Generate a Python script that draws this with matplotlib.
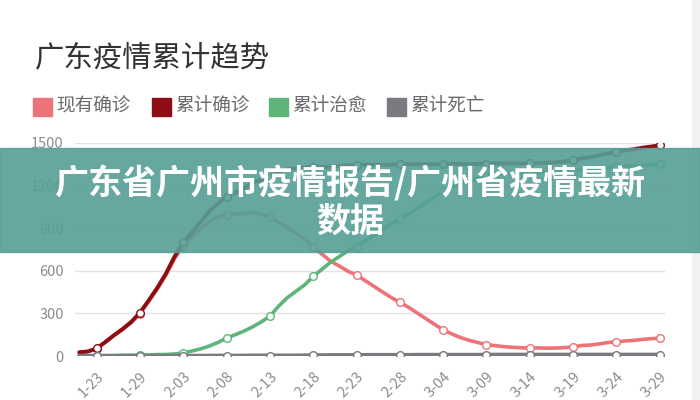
import matplotlib
matplotlib.use("Agg")
import matplotlib.pyplot as plt
from matplotlib.patches import Rectangle

plt.rcParams['font.family'] = ['Noto Sans CJK SC', 'DejaVu Sans']

# dates on a category axis (1-24 is missing in the source chart)
dates = ['1-21', '1-22', '1-23', '1-25', '1-26', '1-27', '1-28', '1-29', '1-30', '1-31',
         '2-01', '2-02', '2-03', '2-04', '2-05', '2-06', '2-07', '2-08', '2-09', '2-10',
         '2-11', '2-12', '2-13', '2-14', '2-15', '2-16', '2-17', '2-18', '2-19', '2-20',
         '2-21', '2-22', '2-23', '2-24', '2-25', '2-26', '2-27', '2-28', '2-29', '3-01',
         '3-02', '3-03', '3-04', '3-05', '3-06', '3-07', '3-08', '3-09', '3-10', '3-11',
         '3-12', '3-13', '3-14', '3-15', '3-16', '3-17', '3-18', '3-19', '3-20', '3-21',
         '3-22', '3-23', '3-24', '3-25', '3-26', '3-27', '3-28', '3-29']

current = [26, 32, 51, 96, 144, 186, 235, 299, 383, 470,
           569, 686, 778, 835, 894, 947, 979, 994, 1000, 1001,
           1012, 999, 979, 942, 904, 865, 825, 767, 718, 668,
           634, 597, 570, 531, 491, 451, 412, 378, 343, 303,
           263, 223, 184, 155, 130, 110, 95, 80, 73, 66,
           61, 58, 56, 57, 55, 56, 59, 64, 74, 77,
           85, 95, 99, 106, 110, 117, 122, 126]

confirmed = [26, 32, 53, 98, 146, 190, 240, 305, 390, 480,
             580, 700, 800, 870, 944, 1018, 1075, 1120, 1151, 1177,
             1219, 1241, 1261, 1294, 1316, 1322, 1328, 1331, 1332, 1333,
             1339, 1342, 1345, 1347, 1347, 1347, 1348, 1349, 1349, 1350,
             1350, 1350, 1351, 1352, 1352, 1352, 1352, 1353, 1356, 1356,
             1356, 1356, 1356, 1360, 1361, 1364, 1370, 1378, 1392, 1400,
             1413, 1428, 1437, 1449, 1456, 1467, 1475, 1484]

cured = [0, 0, 2, 2, 2, 4, 5, 6, 7, 10,
         11, 14, 22, 35, 50, 70, 95, 125, 150, 175,
         205, 240, 280, 350, 410, 455, 500, 560, 610, 660,
         700, 740, 770, 810, 850, 890, 930, 965, 1000, 1040,
         1080, 1120, 1160, 1190, 1215, 1235, 1250, 1265, 1275, 1282,
         1287, 1290, 1292, 1295, 1298, 1300, 1303, 1306, 1310, 1315,
         1320, 1325, 1330, 1335, 1338, 1342, 1345, 1350]

deaths = [0, 0, 0, 0, 0, 0, 0, 0, 0, 0,
          0, 0, 0, 0, 0, 1, 1, 1, 1, 1,
          2, 2, 2, 2, 2, 2, 3, 4, 4, 5,
          5, 5, 5, 6, 6, 6, 6, 6, 6, 7,
          7, 7, 7, 7, 7, 7, 7, 8, 8, 8,
          8, 8, 8, 8, 8, 8, 8, 8, 8, 8,
          8, 8, 8, 8, 8, 8, 8, 8]

series_names = ['现有确诊', '累计确诊', '累计治愈', '累计死亡']
series_colors = ['#ec7478', '#8e0c14', '#5db57a', '#7a7a80']
series_widths = [2.6, 2.8, 2.6, 3.2]

fig = plt.figure(figsize=(7, 4), dpi=100)
ax = fig.add_axes([0.107, 0.11, 0.843, 0.5325])

x = list(range(len(dates)))
for vals, color, lw in zip([current, confirmed, cured, deaths], series_colors, series_widths):
    ax.plot(x, vals, color=color, lw=lw, solid_capstyle='round',
            marker='o', markevery=(2, 5), markersize=5.5,
            markerfacecolor='white', markeredgecolor=color, markeredgewidth=1)

ax.set_ylim(0, 1500)
ax.set_xlim(-0.5, len(dates) - 0.4)
ax.set_yticks([0, 300, 600, 900, 1200, 1500])
ax.set_xticks(x[2::5])
ax.set_xticklabels(dates[2::5], rotation=45, ha='right', rotation_mode='anchor')
ax.tick_params(length=0, labelsize=10.5, labelcolor='#8c8c8c')
ax.tick_params(axis='y', pad=8)
ax.tick_params(axis='x', pad=10)
ax.grid(axis='y', color='#e3e3e3', lw=1)
ax.set_axisbelow(True)
for s in ax.spines.values():
    s.set_visible(False)

# chart title and legend
fig.text(0.05, 0.855, '广东疫情累计趋势', fontsize=21.2, color='#333333', va='center')
sq_x = [33, 152, 269, 387]
for name, color, px in zip(series_names, series_colors, sq_x):
    fig.patches.append(Rectangle((px / 700, 1 - 116 / 400), 19 / 700, 18 / 400,
                                 transform=fig.transFigure, color=color))
    fig.text((px + 23) / 700, 1 - 106 / 400, name, fontsize=13.4, color='#6a6a6a', va='center')

# scrollbar strip on the right edge
fig.patches.append(Rectangle((692 / 700, 0), 8 / 700, 1, transform=fig.transFigure,
                             color='#f1f1f1', zorder=0))

# overlay banner
fig.patches.append(Rectangle((0, 1 - 252 / 400), 1, 104 / 400, transform=fig.transFigure,
                             color='#559f96', alpha=0.9, zorder=10))
fig.text(0.5, 1 - 183 / 400, '广东省广州市疫情报告/广州省疫情最新', fontsize=24.5, fontweight='bold',
         color='white', ha='center', va='center', zorder=11)
fig.text(0.5, 1 - 221 / 400, '数据', fontsize=24.5, fontweight='bold',
         color='white', ha='center', va='center', zorder=11)

fig.savefig('out.png', dpi=100)
